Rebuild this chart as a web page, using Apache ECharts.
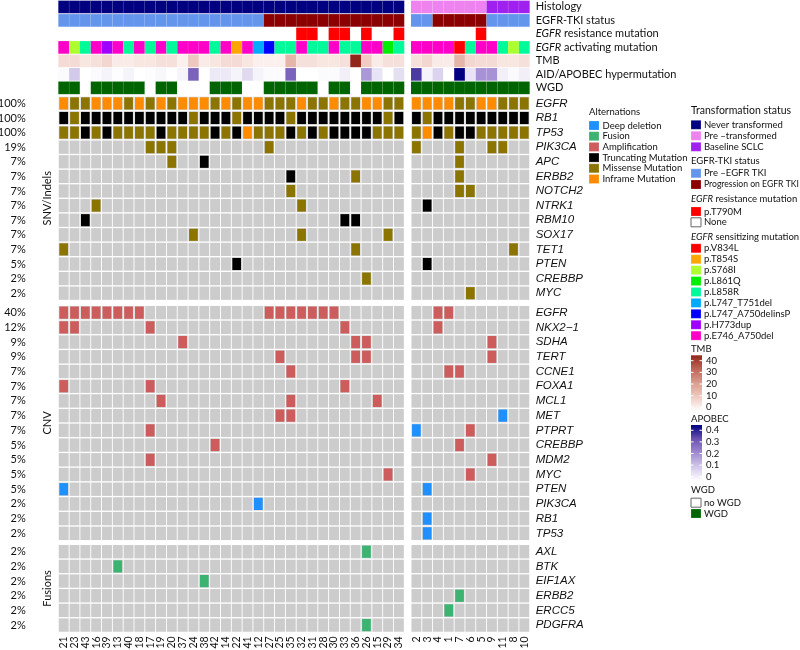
<!DOCTYPE html>
<html><head><meta charset="utf-8">
<script src="https://cdn.jsdelivr.net/npm/echarts@6/dist/echarts.min.js"></script>
<style>html,body{margin:0;padding:0;background:#fff}#c{width:800px;height:650px}</style>
</head><body><div id="c"></div>
<script>
// ---------- samples ----------
const samplesLeft = ['21','23','43','16','39','13','40','18','17','19','20','37','24','38','42','14','22','41','12','27','25','35','32','31','28','30','33','36','26','15','29','34'];
const samplesRight = ['2','3','4','1','7','6','5','9','11','8','10'];
const NL = samplesLeft.length;
const NTOT = NL + samplesRight.length;

// ---------- annotation tracks (left 32 + right 11) ----------
const annoNames = ['Histology','EGFR-TKI status','EGFR resistance mutation','EGFR activating mutation','TMB','AID/APOBEC hypermutation','WGD'];
const histology  = 'NNNNNNNNNNNNNNNNNNNNNNNNNNNNNNNN' + 'PPPPPPPBBBB';
const tkiStatus  = 'EEEEEEEEEEEEEEEEEEEXXXXXXXXXXXXX' + 'EEXXXXXEEEE';
const resistance = '......................TT.TT.T..T' + '......T....';
const activating = 'ESREHERERERΕEERETELPRRERRERREEQR'.replace('Ε','E') + 'EEEEVREERSR';
const tmb    = [7,7,5,6,8,4,4,5,5,6,6,3,11,4,5,7,7,5,3,3,3,15,6,6,5,5,6,40,10,4,6,6,  6,8,4,4,15,8,7,7,5,5,6];
const apobec = [0.01,0.1,0,0.01,0.02,0.005,0.02,0,0.005,0.015,0,0.02,0.27,0,0.04,0.04,0.02,0.07,0.02,0.01,0.01,0.27,0,0,0.01,0.01,0.03,0,0.18,0.05,0,0.06,
                0.33,0.02,0.08,0,0.4,0.05,0.19,0.19,0.03,0.01,0.03];
const wgd        = 'WW.WWWWW.WW...WWW..WWWWW.WW.WWWW' + 'WWWWWWWWWWW';

// ---------- alterations: D deep del, F fusion, A amp, T truncating, M missense, I inframe ----------
const snvGenes = ['EGFR','RB1','TP53','PIK3CA','APC','ERBB2','NOTCH2','NTRK1','RBM10','SOX17','TET1','PTEN','CREBBP','MYC'];
const snvCodes = [
  'IMMIIIMIMIMIIIMIMIIMMMIMMIMMIIMM' + 'IIIIMMIIMMM',
  'TMTTTTTTTTTTMTTTMTTTTMTTTTTTTTMT' + 'TMTTTTTTTTT',
  'MMTMTMMMMTMMMMTMTIMMMTMTMTTTTMMM' + 'MITMTTMMMMM',
  '........MMM........M............' + 'M...M..MM..',
  '..........M..T..................' + '....M......',
  '.....................T.....M....' + '....M......',
  '.....................M..........' + '....MM.....',
  '...M..................M.........' + '.T.........',
  '..T.......................TT....' + '...........',
  '............M.........M.......M.' + '...........',
  'M..........................M....' + '.........M.',
  '................T...............' + '.T.........',
  '............................M...' + '...........',
  '................................' + '.....M.....'
];
const cnvGenes = ['EGFR','NKX2\u22121','SDHA','TERT','CCNE1','FOXA1','MCL1','MET','PTPRT','CREBBP','MDM2','MYC','PTEN','PIK3CA','RB1','TP53'];
const cnvCodes = [
  'AAAAAAAA...........AAAAAAA......' + '..AA.......',
  'AA......A.................A.....' + '..A........',
  '...........A...............AA...' + '.......A...',
  '....................A......AA...' + '.......A...',
  '.....................A..........' + '...AA......',
  'A.......A.................A.....' + '...........',
  '.........A...........A.......A..' + '...........',
  '....................AA..........' + '........D..',
  '........A.......................' + 'D....A.....',
  '..............A.................' + '....A......',
  '........A.......................' + '.......A...',
  '..............................A.' + '.....A.....',
  'D...............................' + '.D.........',
  '..................D.............' + '...........',
  '................................' + '.D.........',
  '................................' + '.D.........'
];
const fusionGenes = ['AXL','BTK','EIF1AX','ERBB2','ERCC5','PDGFRA'];
const fusionCodes = [
  '............................F...' + '...........',
  '.....F..........................' + '...........',
  '.............F..................' + '...........',
  '................................' + '....F......',
  '................................' + '...F.......',
  '............................F...' + '...........'
];
const blockLabels = ['', 'SNV/Indels', 'CNV', 'Fusions'];

// ---------- colours ----------
const altColors = {D:'#1E90FF', F:'#3CB371', A:'#CD5C5C', T:'#000000', M:'#8B7500', I:'#FF8C00'};
const histColors = {N:'#000080', P:'#EE82EE', B:'#A020F0'};
const tkiColors = {E:'#6495ED', X:'#8B0000'};
const resColors = {T:'#FF0000', '.':'#FFFFFF'};
const actColors = {V:'#FF0000', T:'#FFA500', S:'#ADFF2F', Q:'#00EE00', R:'#00FA9A', L:'#00AAFF', P:'#0000FF', H:'#A000FF', E:'#FF00C8'};
const wgdColors = {W:'#006400', '.':'#FFFFFF'};
const tmbStops = ['#FFFFFF', '#F0CCC3', '#DA9E8E', '#BE6757', '#93261A'];
const tmbMax = 40;
const apoStops = ['#FFFFFF', '#D3C9EA', '#A18CD1', '#6A52B2', '#000080'];
const apoMax = 0.4;

// legends
const altLegend = [['Deep deletion','D'],['Fusion','F'],['Amplification','A'],['Truncating Mutation','T'],['Missense Mutation','M'],['Inframe Mutation','I']];
const histLegend = [['Never transformed','N'],['Pre \u2013transformed','P'],['Baseline SCLC','B']];
const tkiLegend = [['Pre \u2013EGFR TKI','E'],['Progression on EGFR TKI','X']];
const resLegend = [['p.T790M','T'],['None','.']];
const actLegend = [['p.V834L','V'],['p.T854S','T'],['p.S768I','S'],['p.L861Q','Q'],['p.L858R','R'],['p.L747_T751del','L'],['p.L747_A750delinsP','P'],['p.H773dup','H'],['p.E746_A750del','E']];
const wgdLegend = [['no WGD','.'],['WGD','W']];
const tmbTicks = [40,30,20,10,0];
const apoTicks = ['0.4','0.3','0.2','0.1','0'];

// ---------- helpers ----------
const FONT = 'Lato';
function tmbColor(v){ return echarts.color.lerp(Math.min(v/tmbMax,1), tmbStops); }
function apoColor(v){ return echarts.color.lerp(Math.min(v/apoMax,1), apoStops); }
function annoColor(row, s){
  switch(row){
    case 0: return histColors[histology[s]];
    case 1: return tkiColors[tkiStatus[s]];
    case 2: return resColors[resistance[s]];
    case 3: return actColors[activating[s]];
    case 4: return tmbColor(tmb[s]);
    case 5: return apoColor(apobec[s]);
    case 6: return wgdColors[wgd[s]];
  }
}
function pct(str){ let n=0; for(const ch of str) if(ch!=='.') n++; return Math.round(100*n/NTOT)+'%'; }

const groupX = [{left:58.3, width:346},{left:411, width:118.7}];
const blockY = [{top:0.2,height:94.4},{top:96.1,height:204.4},{top:305.3,height:235.4},{top:544.4,height:88}];
const blockRows = [annoNames, snvGenes, cnvGenes, fusionGenes];
const blockCodes = [null, snvCodes, cnvCodes, fusionCodes];
const groupSamples = [samplesLeft, samplesRight];

const grids=[], xAxes=[], yAxes=[], series=[];
for(let b=0;b<4;b++){
  for(let g=0; g<2; g++){
    const gi = grids.length;
    grids.push({left:groupX[g].left, width:groupX[g].width, top:blockY[b].top, height:blockY[b].height, containLabel:false, outerBoundsMode:'none'});
    xAxes.push({type:'category', gridIndex:gi, data:groupSamples[g], position:'bottom',
      axisLine:{show:false}, axisTick:{show:false}, splitLine:{show:false},
      axisLabel:{show:b===3, rotate:90, margin:4, interval:0, fontSize:10.5, fontFamily:FONT, color:'#111'}});
    const rows = blockRows[b];
    const y = {type:'category', gridIndex:gi, data:rows, inverse:true, position: g===0?'left':'right',
      axisLine:{show:false}, axisTick:{show:false}, splitLine:{show:false}};
    if(g===0){
      if(b===0){ y.axisLabel={show:false}; }
      else {
        const p = blockCodes[b].map(pct);
        y.axisLabel={show:true, interval:0, margin:32.5, fontSize:11, fontFamily:FONT, color:'#111', formatter:(v,i)=>p[i]};
        y.name = blockLabels[b]; y.nameLocation='middle'; y.nameRotate=90; y.nameGap=5;
        y.nameMoveOverlap=false;
        y.nameTextStyle={fontSize:11, fontFamily:FONT, color:'#111'};
      }
    } else {
      if(b===0){
        y.axisLabel={show:true, interval:0, margin:6, fontSize:11, fontFamily:FONT, color:'#111',
          formatter:v=> v.indexOf('EGFR ')===0 ? '{i|EGFR}'+v.slice(4) : v,
          rich:{i:{fontStyle:'italic', fontSize:11, fontFamily:FONT, color:'#111'}}};
      } else {
        y.axisLabel={show:true, interval:0, margin:6, fontSize:11.5, fontStyle:'italic', fontFamily:'Liberation Sans', color:'#111'};
      }
    }
    yAxes.push(y);

    const data=[], colors=[];
    const off = g===0 ? 0 : NL;
    const n = groupSamples[g].length;
    rows.forEach((r, yi)=>{
      for(let xi=0; xi<n; xi++){
        data.push([xi, yi]);
        if(b===0) colors.push(annoColor(yi, off+xi));
        else { const ch = blockCodes[b][yi][off+xi]; colors.push(ch==='.'?null:altColors[ch]); }
      }
    });
    const isAnno = b===0;
    series.push({type:'custom', coordinateSystem:'cartesian2d', xAxisIndex:gi, yAxisIndex:gi, data, silent:true, animation:false,
      encode:{x:0,y:1},
      renderItem:function(params, api){
        const c = api.coord([api.value(0), api.value(1)]);
        const s = api.size([1,1]);
        const col = colors[params.dataIndex];
        if(isAnno){
          const w = s[0], h = s[1]-0.8;
          return {type:'rect', shape:{x:c[0]-w/2, y:c[1]-h/2, width:w, height:h}, style:{fill:col, stroke:'rgba(255,255,255,0.12)', lineWidth:0.5}};
        }
        const w = s[0]-0.9, h = s[1]-1.3;
        const x = c[0]-w/2, y0 = c[1]-h/2;
        const children = [{type:'rect', shape:{x, y:y0, width:w, height:h}, style:{fill:'#CCCCCC'}}];
        if(col) children.push({type:'rect', shape:{x:x+0.6, y:y0+0.6, width:w-1.2, height:h-1.2}, style:{fill:col}});
        return {type:'group', children};
      }});
  }
}

// ---------- legends (graphic) ----------
const G = [];
function sq(x, y, color, border){
  G.push({type:'rect', shape:{x:x, y:y-4.5, width:10, height:9}, style:{fill:color, stroke:border||'rgba(255,255,255,0.4)', lineWidth:border?1:0.5}, silent:true});
}
function txt(x, y, text, size, rich){
  G.push({type:'text', x:x, y:y, silent:true, style:{text:text, fontSize:size, fontFamily:FONT, fill:'#111',
    textAlign:'left', textVerticalAlign:'middle', align:'left', verticalAlign:'middle', rich:rich}});
}
function fitSize(label){ return label.length > 20 ? 8.6 : 9.5; }
const italicRich = {i:{fontStyle:'italic', fontSize:9.5, fontFamily:FONT, fill:'#111'}};
// Alternations
txt(589, 112.3, 'Alternations', 9.5);
altLegend.forEach((it,i)=>{ const y=125.5+i*10.7; sq(589, y, altColors[it[1]]); txt(602.5, y, it[0], 9.5); });
// Transformation status
const BX = 691, TX = 704;
txt(BX, 111, 'Transformation status', 10.5);
histLegend.forEach((it,i)=>{ const y=124.8+i*11; sq(BX, y, histColors[it[1]]); txt(TX, y, it[0], 9.5); });
txt(BX, 161, 'EGFR-TKI status', 9.5);
tkiLegend.forEach((it,i)=>{ const y=173.3+i*11.2; sq(BX, y, tkiColors[it[1]]); txt(TX, y, it[0], fitSize(it[0])); });
txt(BX, 198.7, '{i|EGFR} resistance mutation', 9.5, italicRich);
resLegend.forEach((it,i)=>{ const y=211.5+i*10.8; sq(BX, y, resColors[it[1]], it[1]==='.'?'#666':null); txt(TX, y, it[0], 9.5); });
txt(BX, 236.7, '{i|EGFR} sensitizing mutation', 9.5, italicRich);
actLegend.forEach((it,i)=>{ const y=248.3+i*10.92; sq(BX, y, actColors[it[1]]); txt(TX, y, it[0], 9.5); });
// gradients
function gradLegend(title, ty, barTop, barH, labels, stops, lab0, labStep){
  txt(BX, ty, title, 9.5);
  const cs = stops.slice().reverse().map((c,i,a)=>({offset:i/(a.length-1), color:c}));
  G.push({type:'rect', silent:true, shape:{x:BX, y:barTop, width:11, height:barH},
    style:{fill:new echarts.graphic.LinearGradient(0,0,0,1,cs)}});
  labels.forEach((l,i)=>{
    const y = lab0 + i*labStep;
    G.push({type:'line', silent:true, shape:{x1:BX, y1:y, x2:BX+2.5, y2:y}, style:{stroke:'#fff', lineWidth:1}});
    G.push({type:'line', silent:true, shape:{x1:BX+8.5, y1:y, x2:BX+11, y2:y}, style:{stroke:'#fff', lineWidth:1}});
    txt(BX+15, y, String(l), 9.5);
  });
}
gradLegend('TMB', 349.4, 355.3, 56, tmbTicks, tmbStops, 360.7, 11.65);
gradLegend('APOBEC', 419.3, 425, 56, apoTicks, apoStops, 430.3, 11.6);
// WGD
txt(BX, 489.7, 'WGD', 9.5);
wgdLegend.forEach((it,i)=>{ const y=502.7+i*10.8; sq(BX, y, wgdColors[it[1]], it[1]==='.'?'#666':null); txt(TX, y, it[0], 9.5); });

const chart = echarts.init(document.getElementById('c'), null, {renderer:'canvas'});
chart.setOption({
  animation:false,
  backgroundColor:'#fff',
  grid:grids, xAxis:xAxes, yAxis:yAxes, series:series,
  graphic:{elements:G}
});
</script></body></html>
